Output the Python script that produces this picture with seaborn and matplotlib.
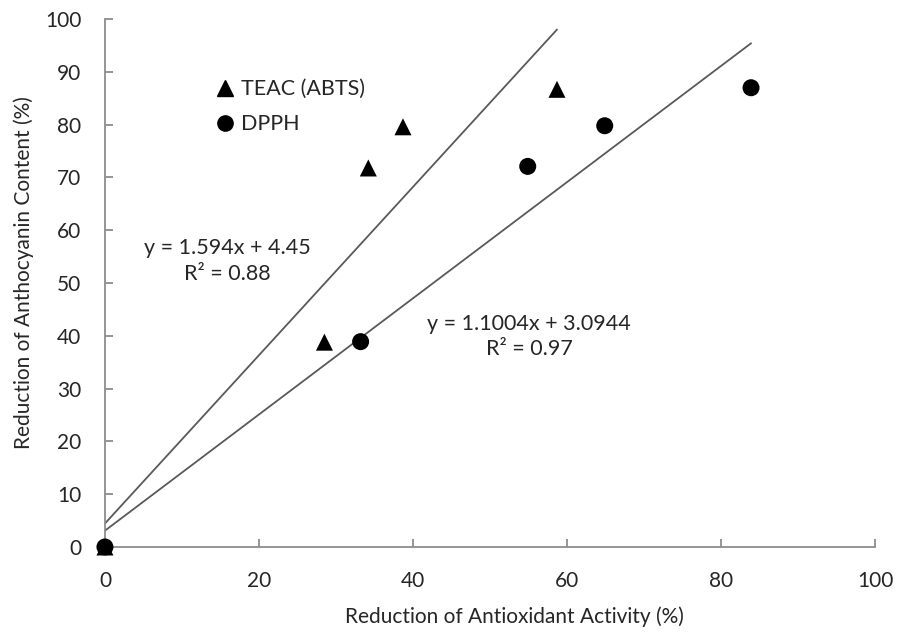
import numpy as np
import pandas as pd
import matplotlib
matplotlib.use("Agg")
import matplotlib.pyplot as plt
import seaborn as sns
from matplotlib.lines import Line2D

# Data
teac_x = [0, 28.5, 34.2, 38.7, 58.7]
teac_y = [0, 38.8, 71.8, 79.6, 86.7]
dpph_x = [0, 33.2, 54.9, 64.9, 83.9]
dpph_y = [0, 38.9, 72.1, 79.8, 87.0]
series_names = ["TEAC (ABTS)", "DPPH"]
teac_fit = (1.594, 4.45)
dpph_fit = (1.1004, 3.0944)
teac_eq = ["y = 1.594x + 4.45", "R² = 0.88"]
dpph_eq = ["y = 1.1004x + 3.0944", "R² = 0.97"]
x_ticks = [0, 20, 40, 60, 80, 100]
y_ticks = [0, 10, 20, 30, 40, 50, 60, 70, 80, 90, 100]

df = pd.DataFrame({
    "x": teac_x + dpph_x,
    "y": teac_y + dpph_y,
    "series": [series_names[0]] * len(teac_x) + [series_names[1]] * len(dpph_x),
})

sns.set_theme(style="white")
plt.rcParams["font.family"] = ["Lato", "DejaVu Sans"]

fig = plt.figure(figsize=(8.97, 6.37), dpi=100)
ax = fig.add_axes([0.117, 0.1413, 0.8585, 0.8287])

line_col = "#595959"
for (m, b), xs in [(teac_fit, teac_x), (dpph_fit, dpph_x)]:
    lx = np.array([0.0, max(xs)])
    sns.lineplot(x=lx, y=m * lx + b, ax=ax, color=line_col, lw=1.3, zorder=2)

sns.scatterplot(data=df, x="x", y="y", style="series", hue="series",
                palette={series_names[0]: "black", series_names[1]: "black"},
                markers={series_names[0]: "^", series_names[1]: "o"},
                s=150, edgecolor="none", ax=ax, zorder=3, clip_on=False,
                legend=False)

txt_col = "#262626"
ax.set_xlim(0, 100)
ax.set_ylim(0, 100)
ax.set_xticks(x_ticks)
ax.set_yticks(y_ticks)
for sp in ["top", "right"]:
    ax.spines[sp].set_visible(False)
for sp in ["left", "bottom"]:
    ax.spines[sp].set_color("#8c8c8c")
    ax.spines[sp].set_linewidth(1.3)
ax.tick_params(axis="x", direction="in", length=6, width=1.3, color="#8c8c8c",
               pad=17, labelsize=15, labelcolor=txt_col)
ax.tick_params(axis="y", direction="in", length=6, width=1.3, color="#8c8c8c",
               pad=17, labelsize=15, labelcolor=txt_col)
ax.xaxis.set_ticks_position("bottom")
ax.yaxis.set_ticks_position("left")

ax.set_xlabel("Reduction of Antioxidant Activity (%)", fontsize=15, color=txt_col, va="center")
ax.set_ylabel("Reduction of Anthocyanin Content (%)", fontsize=15, color=txt_col, va="center")
ax.xaxis.set_label_coords(0.532, -0.133)
ax.yaxis.set_label_coords(-0.105, 0.519)

# legend
handles = [Line2D([], [], marker="^", color="black", ls="none", markersize=11),
           Line2D([], [], marker="o", color="black", ls="none", markersize=11)]
ax.legend(handles, series_names, loc="center left", bbox_to_anchor=(0.139, 0.834),
          frameon=False, fontsize=15.5, handletextpad=0.15, labelspacing=0.7,
          handlelength=1.2, borderaxespad=0, borderpad=0)

ax.text(15.9, 54.2, teac_eq[0] + "\n" + teac_eq[1], ha="center", va="center",
        fontsize=15.5, color=txt_col, linespacing=1.4)
ax.text(55.1, 39.8, dpph_eq[0] + "\n" + dpph_eq[1], ha="center", va="center",
        fontsize=15.5, color=txt_col, linespacing=1.3)

fig.savefig("out.png", dpi=100)
